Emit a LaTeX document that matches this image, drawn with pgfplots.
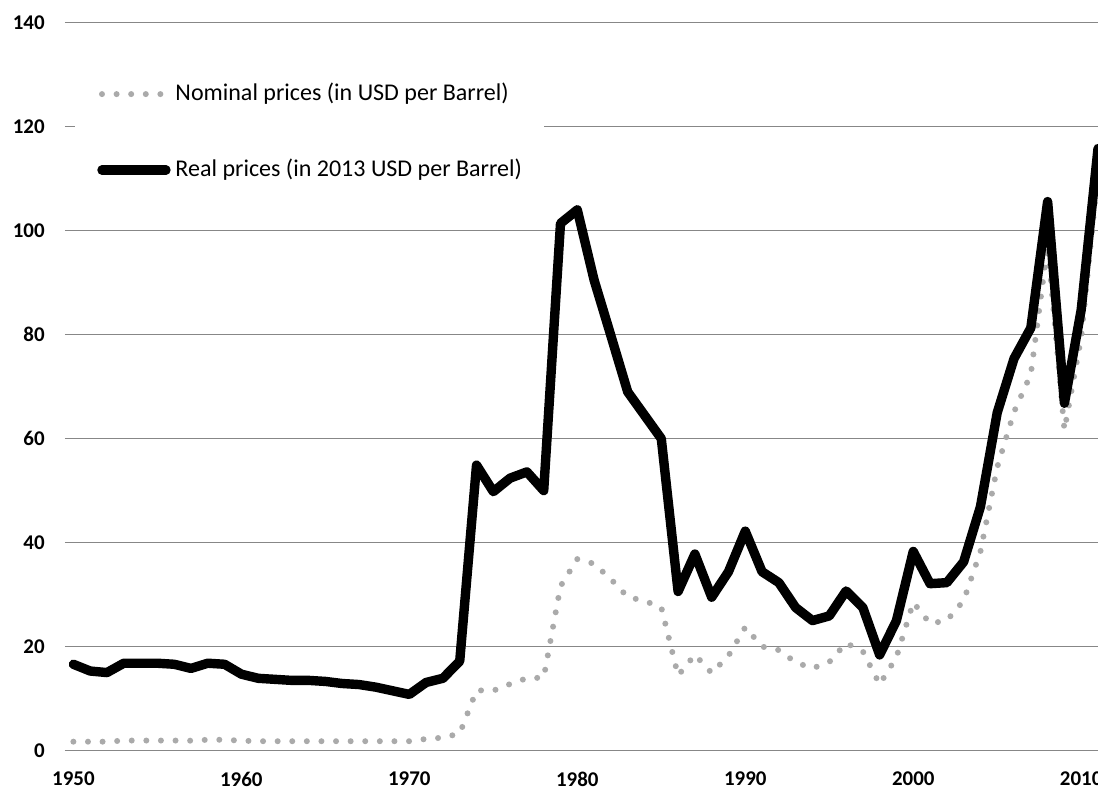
\documentclass[border=0pt]{standalone}
\usepackage{fontspec}
\setmainfont{Carlito}
\usepackage{pgfplots}
\usepackage{pgfplotstable}
\pgfplotsset{compat=1.18}
\definecolor{nomgray}{RGB}{170,170,170}
\definecolor{gridgray}{RGB}{135,135,135}

% crude oil prices, USD per barrel
\pgfplotstableread{
year nominal real
1950 1.71 16.6
1951 1.71 15.3
1952 1.71 15.0
1953 1.93 16.8
1954 1.93 16.8
1955 1.93 16.8
1956 1.93 16.6
1957 1.90 15.8
1958 2.08 16.8
1959 2.08 16.6
1960 1.90 14.7
1961 1.80 13.9
1962 1.80 13.7
1963 1.80 13.5
1964 1.80 13.5
1965 1.80 13.3
1966 1.80 12.9
1967 1.80 12.7
1968 1.80 12.2
1969 1.80 11.5
1970 1.80 10.8
1971 2.24 13.1
1972 2.48 13.9
1973 3.29 17.2
1974 11.58 54.9
1975 11.53 49.8
1976 12.80 52.4
1977 13.92 53.6
1978 14.02 50.0
1979 31.61 101.4
1980 36.83 104.0
1981 35.93 90.5
1982 32.97 79.8
1983 29.55 69.0
1984 28.78 64.5
1985 27.56 60.0
1986 14.43 30.6
1987 18.44 37.8
1988 14.92 29.5
1989 18.23 34.4
1990 23.73 42.2
1991 20.00 34.4
1992 19.32 32.3
1993 16.97 27.5
1994 15.82 25.0
1995 17.02 25.9
1996 20.67 30.7
1997 19.09 27.5
1998 12.72 18.4
1999 17.97 25.0
2000 28.50 38.3
2001 24.44 32.1
2002 25.02 32.3
2003 28.83 36.3
2004 38.27 46.9
2005 54.52 65.0
2006 65.14 75.4
2007 72.39 81.3
2008 97.26 105.6
2009 61.67 66.8
2010 79.50 84.8
2011 111.26 115.8
}\oil

\begin{document}
\begin{tikzpicture}
\begin{axis}[
  scale only axis, width=25.83cm, height=18.2cm,
  xmin=1949.5, xmax=2011, ymin=0, ymax=140,
  axis x line*=bottom, axis y line*=left,
  x axis line style={draw=gridgray, line width=0.035cm, -},
  y axis line style={draw=none},
  ytick={0,20,...,140},
  ymajorgrids, grid style={gridgray, line width=0.03cm},
  xtick={1950,1960,...,2010},
  xticklabels={1950,1960,1970,1980,1990,2000,2010},
  major x tick style={draw=none},
  major y tick style={draw=none},
  extra x ticks={1949.5,1959.5,1969.5,1979.5,1989.5,1999.5,2009.5},
  extra x tick labels={},
  extra x tick style={tick align=outside, major tick length=0.125cm,
    tick style={draw=gridgray, line width=0.035cm}},
  ticklabel style={font=\fontsize{14.9pt}{17pt}\selectfont\bfseries},
  /pgf/number format/assume math mode=true,
  yticklabel style={anchor=east, inner sep=0pt, text width=1.2cm,
    align=right, xshift=-0.5cm},
  xticklabel style={anchor=north, inner sep=0pt, yshift=-0.525cm},
  legend style={at={(0.0097,0.9446)}, anchor=north west, fill=white, draw=none,
    inner xsep=0.55cm, inner ysep=0.5cm,
    font=\fontsize{17.1pt}{20pt}\selectfont, row sep=1.36cm,
    nodes={inner sep=0pt, text height=0.42cm, text depth=0.12cm},
    /tikz/every odd column/.append style={column sep=0.12cm}},
  legend cell align=left,
  legend image code/.code={\draw[#1] (0cm,0cm) -- (1.6cm,0cm);},
]
\addplot[nomgray, line width=0.15cm, line cap=round,
  dash pattern=on 0cm off 0.365cm] table[x=year, y=nominal] {\oil};
\addlegendentry{Nominal prices (in USD per Barrel)}
\addplot[black, line width=0.235cm, line cap=round, line join=round]
  table[x=year, y=real] {\oil};
\addlegendentry{Real prices (in 2013 USD per Barrel)}
\coordinate (ll) at (rel axis cs:0,0);
\coordinate (ur) at (rel axis cs:1,1);
\end{axis}
\pgfresetboundingbox
\path[use as bounding box] ([xshift=-1.625cm, yshift=-0.9075cm]ll)
  rectangle ([yshift=0.5675cm]ur);
\end{tikzpicture}
\end{document}
